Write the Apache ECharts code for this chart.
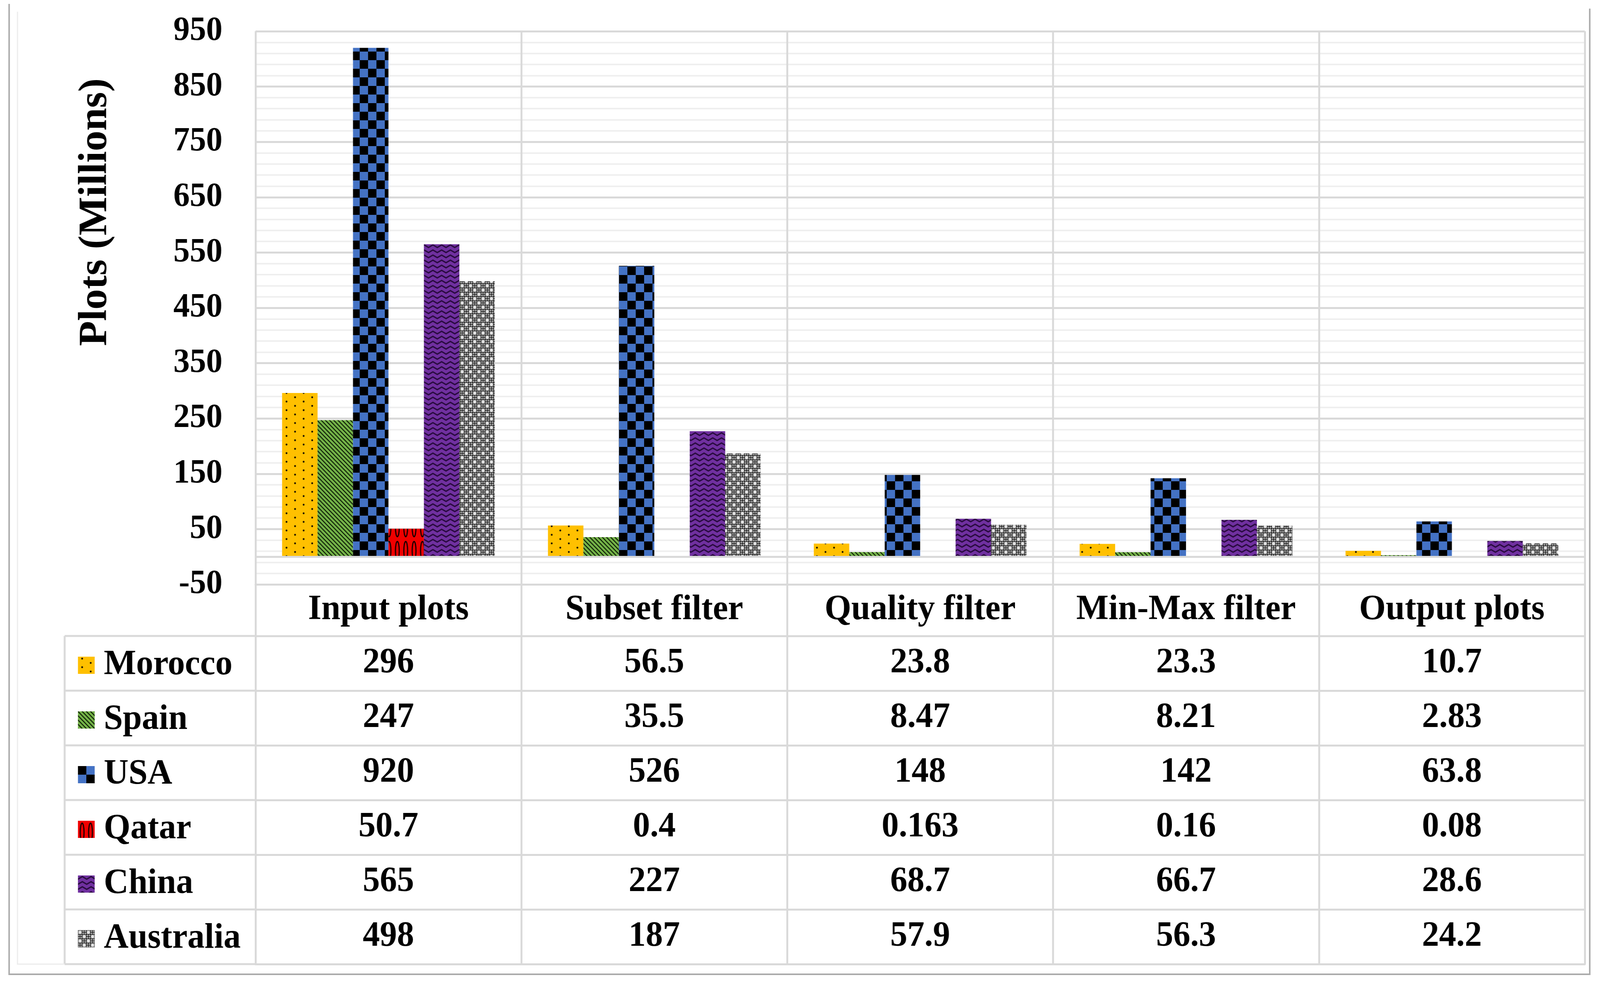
<!DOCTYPE html>
<html lang="en">
<head>
    <meta charset="UTF-8">
    <title>Plots per filter step</title>
    <script src="https://cdn.jsdelivr.net/npm/echarts@6/dist/echarts.min.js"></script>
    <style>
        html, body { margin: 0; padding: 0; background: #fff; overflow: hidden; }
        #main { transform-origin: 0 0; }
    </style>
</head>
<body>
<div id="main" style="width: 4208px;height:2524px;"></div>
<script type="text/javascript">
    // data
    var categories = ['Input plots', 'Subset filter', 'Quality filter', 'Min-Max filter', 'Output plots'];
    var countries = ['Morocco', 'Spain', 'USA', 'Qatar', 'China', 'Australia'];
    var morocco = [296, 56.5, 23.8, 23.3, 10.7];
    var spain = [247, 35.5, 8.47, 8.21, 2.83];
    var usa = [920, 526, 148, 142, 63.8];
    var qatar = [50.7, 0.4, 0.163, 0.16, 0.08];
    var china = [565, 227, 68.7, 66.7, 28.6];
    var australia = [498, 187, 57.9, 56.3, 24.2];
    var yMin = -50, yMax = 950, yStep = 100;
    var yName = 'Plots (Millions)';

    var rows = [morocco, spain, usa, qatar, china, australia];

    // the chart is laid out at 4208x2524 and squeezed to the real viewport width
    var box = document.getElementById('main');
    var sx = (window.innerWidth || 4208) / 4208;
    var sy = (window.innerHeight || 2524) / 2524;
    box.style.transform = 'scale(' + sx + ',' + sy + ')';

    // layout
    var GRID_LEFT = 672, GRID_RIGHT = 40, GRID_TOP = 80, GRID_BOTTOM = 1028;
    var HEAD_H = 132, ROW_H = 140;
    var TABLE_LEFT = 170;
    var LINE = '#d9d9d9';
    var FONT = "'Liberation Serif', 'Times New Roman', serif";
    var plotBottom = 2524 - GRID_BOTTOM;
    var tableTop = plotBottom + HEAD_H;
    var tableBottom = tableTop + ROW_H * rows.length;

    // fill patterns
    function pattern(w, h, draw) {
        var c = document.createElement('canvas');
        c.width = w; c.height = h;
        draw(c.getContext('2d'), w, h);
        return { image: c, repeat: 'repeat' };
    }
    function dot(ctx, x, y, r, col) {
        ctx.fillStyle = col;
        ctx.beginPath(); ctx.arc(x, y, r, 0, Math.PI * 2); ctx.fill();
    }
    function cross(ctx, x, y, a) {
        ctx.beginPath();
        ctx.moveTo(x - a, y); ctx.lineTo(x + a, y);
        ctx.moveTo(x, y - a); ctx.lineTo(x, y + a);
        ctx.stroke();
    }
    var fills = [
        pattern(45, 22, function (ctx, w, h) {
            ctx.fillStyle = '#FFC000'; ctx.fillRect(0, 0, w, h);
            dot(ctx, 11, 5, 2.4, '#1a1200');
            dot(ctx, 33.5, 16, 2.4, '#1a1200');
        }),
        pattern(11, 11, function (ctx, w, h) {
            ctx.fillStyle = '#74B348'; ctx.fillRect(0, 0, w, h);
            ctx.strokeStyle = '#0d1a06'; ctx.lineWidth = 2.4;
            [-w, 0, w].forEach(function (o) {
                ctx.beginPath(); ctx.moveTo(o - 1, -1); ctx.lineTo(o + w + 1, h + 1); ctx.stroke();
            });
        }),
        pattern(44, 44, function (ctx, w, h) {
            ctx.fillStyle = '#4472C4'; ctx.fillRect(0, 0, w, h);
            ctx.fillStyle = '#000';
            ctx.fillRect(0, 0, 22, 22); ctx.fillRect(22, 22, 22, 22);
        }),
        pattern(22, 60, function (ctx, w, h) {
            ctx.fillStyle = '#F00000'; ctx.fillRect(0, 0, w, h);
            ctx.strokeStyle = '#140000'; ctx.lineWidth = 3;
            ctx.beginPath();
            ctx.ellipse(11, 30, 5, 24, 0, 0, Math.PI * 2);
            ctx.stroke();
        }),
        pattern(23, 13, function (ctx, w, h) {
            ctx.fillStyle = '#7030A0'; ctx.fillRect(0, 0, w, h);
            ctx.strokeStyle = '#2a0c40'; ctx.lineWidth = 3.5;
            ctx.beginPath(); ctx.moveTo(-1, 10); ctx.lineTo(11.5, 3); ctx.lineTo(24, 10); ctx.stroke();
        }),
        pattern(22, 22, function (ctx, w, h) {
            ctx.fillStyle = '#1c1c1c'; ctx.fillRect(0, 0, w, h);
            for (var i = 0; i < 4; i++) {
                for (var j = 0; j < 4; j++) {
                    dot(ctx, 2.75 + i * 5.5, 2.75 + j * 5.5, 2.2, '#b4b4b4');
                }
            }
            ctx.strokeStyle = '#fff'; ctx.lineWidth = 2.2;
            cross(ctx, 5.5, 5.5, 4.5);
            cross(ctx, 16.5, 16.5, 4.5);
        })
    ];

    var myChart = echarts.init(box);

    // category row plus one axis per table row (and one closing line)
    var xAxes = [{
        type: 'category',
        data: categories,
        position: 'bottom',
        axisLine: { show: true, onZero: false, lineStyle: { color: LINE, width: 5 } },
        axisTick: { show: true, interval: 0, length: HEAD_H, lineStyle: { color: LINE, width: 5 } },
        splitLine: { show: true, interval: 0, lineStyle: { color: LINE, width: 5 } },
        axisLabel: {
            interval: 0, margin: HEAD_H / 2, verticalAlign: 'middle',
            fontSize: 90, fontWeight: 'bold', fontFamily: FONT, color: '#000'
        }
    }];
    rows.forEach(function (vals, k) {
        xAxes.push({
            type: 'category',
            data: categories,
            position: 'bottom',
            offset: HEAD_H + ROW_H * k,
            axisLine: { show: true, onZero: false, lineStyle: { color: LINE, width: 5 } },
            axisTick: { show: true, interval: 0, length: ROW_H, lineStyle: { color: LINE, width: 5 } },
            splitLine: { show: false },
            axisLabel: {
                interval: 0, margin: ROW_H / 2, verticalAlign: 'middle',
                fontSize: 90, fontWeight: 'bold', fontFamily: FONT, color: '#000',
                formatter: function (v, idx) { return String(vals[idx]); }
            }
        });
    });
    xAxes.push({
        type: 'category',
        data: categories,
        position: 'bottom',
        offset: HEAD_H + ROW_H * rows.length,
        axisLine: { show: true, onZero: false, lineStyle: { color: LINE, width: 5 } },
        axisTick: { show: false },
        splitLine: { show: false },
        axisLabel: { show: false }
    });

    var series = countries.map(function (name, i) {
        var s = {
            name: name,
            type: 'bar',
            xAxisIndex: 0,
            data: rows[i],
            barGap: '0%',
            barCategoryGap: '20%',
            itemStyle: { color: fills[i] }
        };
        if (i === 0) {
            s.markLine = {
                silent: true,
                symbol: 'none',
                label: { show: false },
                lineStyle: { color: LINE, width: 5, type: 'solid' },
                data: [{ yAxis: 0 }]
            };
        }
        return s;
    });

    // left column of the data table
    var graphics = [];
    for (var k = 0; k <= rows.length; k++) {
        graphics.push({
            type: 'line', silent: true,
            shape: { x1: TABLE_LEFT, y1: tableTop + ROW_H * k, x2: GRID_LEFT, y2: tableTop + ROW_H * k },
            style: { stroke: LINE, lineWidth: 5 }
        });
    }
    graphics.push({
        type: 'line', silent: true,
        shape: { x1: TABLE_LEFT, y1: tableTop, x2: TABLE_LEFT, y2: tableBottom },
        style: { stroke: LINE, lineWidth: 5 }
    });
    // chart area and outer frame
    graphics.push({
        type: 'polyline', silent: true,
        shape: { points: [[46, 30], [46, tableBottom], [TABLE_LEFT, tableBottom]] },
        style: { stroke: '#ececec', lineWidth: 3, fill: null }
    });
    graphics.push({
        type: 'polyline', silent: true,
        shape: { points: [[24, 10], [24, 2494], [4181, 2494], [4181, 22]] },
        style: { stroke: '#ababab', lineWidth: 4, fill: null }
    });
    // axis title
    graphics.push({
        type: 'text', silent: true,
        x: 252, y: 543, rotation: Math.PI / 2,
        style: {
            text: yName, fontSize: 105, fontWeight: 'bold', fontFamily: FONT, fill: '#000',
            align: 'center', verticalAlign: 'middle'
        }
    });

    myChart.setOption({
        backgroundColor: '#fff',
        animation: false,
        grid: { left: GRID_LEFT, right: GRID_RIGHT, top: GRID_TOP, bottom: GRID_BOTTOM },
        legend: {
            data: countries,
            orient: 'vertical',
            left: 200,
            top: tableTop + ROW_H / 2 - 45,
            itemWidth: 44,
            itemHeight: 44,
            itemGap: ROW_H - 90,
            icon: 'rect',
            selectedMode: false,
            textStyle: {
                fontSize: 90, fontWeight: 'bold', fontFamily: FONT, color: '#000',
                lineHeight: 90, padding: [0, 0, 0, 19]
            }
        },
        xAxis: xAxes,
        yAxis: {
            type: 'value',
            min: yMin,
            max: yMax,
            interval: yStep,
            axisLine: { show: false },
            axisTick: { show: false },
            splitLine: { show: true, lineStyle: { color: LINE, width: 5 } },
            minorTick: { show: false, splitNumber: 5 },
            minorSplitLine: { show: true, lineStyle: { color: '#efefef', width: 4 } },
            axisLabel: {
                margin: 87, fontSize: 86, fontWeight: 'bold', fontFamily: FONT, color: '#000'
            }
        },
        graphic: graphics,
        series: series
    });
</script>
</body>
</html>
